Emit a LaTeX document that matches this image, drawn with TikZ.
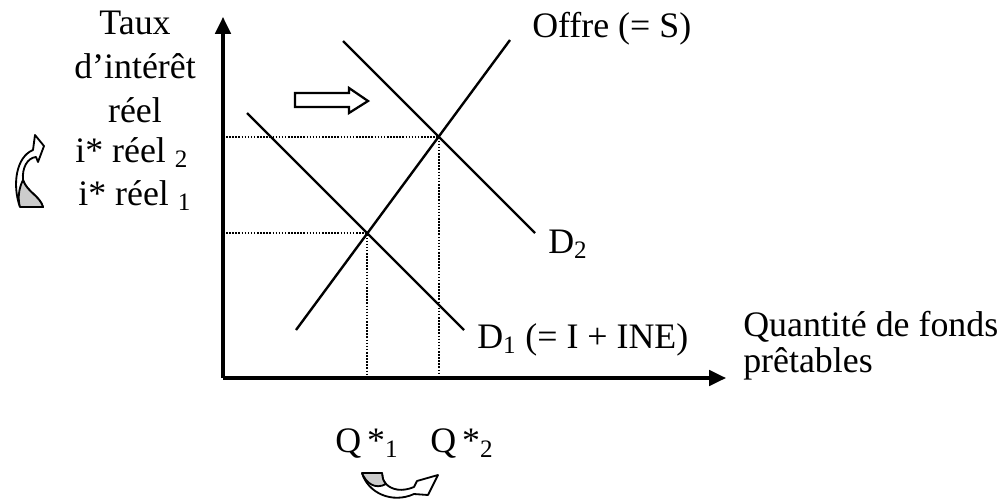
\documentclass[tikz,border=0pt]{standalone}
\usepackage{fontspec}
\setmainfont{Liberation Serif}
\usetikzlibrary{arrows.meta}

\begin{document}
\begin{tikzpicture}[
  x=0.025cm, y=-0.025cm,
  lbl/.style={inner sep=0pt, anchor=base west, font=\fontsize{25.5}{30}\selectfont},
  curve/.style={line width=1.7pt},
  axis/.style={line width=2.2pt, -{Triangle[length=12pt, width=11pt]}},
  guide/.style={line width=1.2pt, dash pattern=on 1.1pt off 1.1pt},
  turn/.style={line width=1.3pt, line join=round}
]
\useasboundingbox (0,0) rectangle (1006,501);

% axes
\coordinate (O) at (223,378);
\coordinate (ytop) at (223,17);
\coordinate (xend) at (726,378);
\draw[axis] (O) -- (ytop);
\draw[axis] (O) -- (xend);

% offre et demandes
\coordinate (s0) at (296,330);
\coordinate (s1) at (510,40);
\coordinate (da0) at (247,113);
\coordinate (da1) at (464,330);
\coordinate (db0) at (343,41);
\coordinate (db1) at (535,233);
\coordinate (e1) at (367,233);
\coordinate (e2) at (439,137);
\draw[curve] (s0) -- (s1);
\draw[curve] (da0) -- (da1);
\draw[curve] (db0) -- (db1);

\draw[guide] (O |- e1) -- (e1) -- (e1 |- O);
\draw[guide] (O |- e2) -- (e2) -- (e2 |- O);

% deplacement de la demande
\draw[line width=1.6pt, fill=white] (295,93) -- (349,93) -- (349,88) -- (368,101)
  -- (349,113) -- (349,107) -- (295,107) -- cycle;

% textes
\node[lbl, anchor=base, align=center, font=\fontsize{25.5}{31}\selectfont] (taux) at (135,122) {Taux\\d’intérêt\\réel};
\node[lbl] (ir2) at (75,162) {i* réel \textsubscript{2}};
\node[lbl] (ir1) at (78,205) {i* réel \textsubscript{1}};
\node[lbl] (offre) at (532,37) {Offre (= S)};
\node[lbl] (d2) at (548,253) {D\textsubscript{2}};
\node[lbl] (d1) at (477,348) {D\textsubscript{1} (= I + INE)};
\node[lbl, align=left, font=\fontsize{25.5}{25}\selectfont] (qte) at (743,372) {Quantité de fonds\\prêtables};
\node[lbl] (q1) at (335,452) {Q\,*\textsubscript{1}};
\node[lbl] (q2) at (430,452) {Q\,*\textsubscript{2}};

% fleches courbes
\draw[turn, fill=white] (20,207) .. controls (12,185) and (16,157) .. (33,150)
  -- (35,135) -- (44,146) -- (38,162) -- (36,157)
  .. controls (27,158) and (22,168) .. (23,180)
  .. controls (27,192) and (40,196) .. (43,207) -- cycle;
\draw[turn, fill=black!20] (20,207) -- (43,207)
  .. controls (40,196) and (27,192) .. (23,180)
  .. controls (18,190) and (18,200) .. (20,207);
\draw[turn, fill=white] (362,473) .. controls (368,493) and (392,504) .. (414,494)
  -- (428,495) -- (438,475) -- (417,481) -- (414,487)
  .. controls (402,492) and (392,490) .. (386,484)
  .. controls (383,480) .. (382,473) -- cycle;
\draw[turn, fill=black!20] (362,473) -- (382,473)
  .. controls (383,480) .. (386,484)
  .. controls (375,490) and (366,483) .. (362,473);
\end{tikzpicture}
\end{document}
